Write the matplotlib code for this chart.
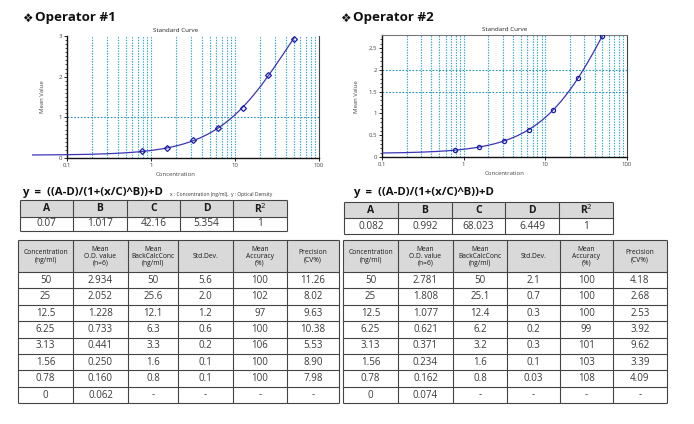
import numpy as np
import matplotlib
matplotlib.use("Agg")
import matplotlib.pyplot as plt
from matplotlib.patches import Rectangle
from matplotlib.ticker import FixedLocator, NullFormatter

plt.rcParams['font.family'] = ['Open Sans', 'DejaVu Sans']

# ---------------- data ----------------
conc = [50, 25, 12.5, 6.25, 3.13, 1.56, 0.78]
od1 = [2.934, 2.052, 1.228, 0.733, 0.441, 0.250, 0.160]
od2 = [2.781, 1.808, 1.077, 0.621, 0.371, 0.234, 0.162]
params1 = [0.07, 1.017, 42.16, 5.354]
params2 = [0.082, 0.992, 68.023, 6.449]
param_hdr = ['A', 'B', 'C', 'D', 'R$^2$']
param_vals1 = ['0.07', '1.017', '42.16', '5.354', '1']
param_vals2 = ['0.082', '0.992', '68.023', '6.449', '1']

tbl_hdr = ['Concentration\n(ng/ml)', 'Mean\nO.D. value\n(n=6)', 'Mean\nBackCalcConc\n(ng/ml)',
           'Std.Dev.', 'Mean\nAccuracy\n(%)', 'Precision\n(CV%)']
t_conc = ['50', '25', '12.5', '6.25', '3.13', '1.56', '0.78', '0']
t1_od = ['2.934', '2.052', '1.228', '0.733', '0.441', '0.250', '0.160', '0.062']
t1_back = ['50', '25.6', '12.1', '6.3', '3.3', '1.6', '0.8', '-']
t1_sd = ['5.6', '2.0', '1.2', '0.6', '0.2', '0.1', '0.1', '-']
t1_acc = ['100', '102', '97', '100', '106', '100', '100', '-']
t1_cv = ['11.26', '8.02', '9.63', '10.38', '5.53', '8.90', '7.98', '-']
t2_od = ['2.781', '1.808', '1.077', '0.621', '0.371', '0.234', '0.162', '0.074']
t2_back = ['50', '25.1', '12.4', '6.2', '3.2', '1.6', '0.8', '-']
t2_sd = ['2.1', '0.7', '0.3', '0.2', '0.3', '0.1', '0.03', '-']
t2_acc = ['100', '100', '100', '99', '101', '103', '108', '-']
t2_cv = ['4.18', '2.68', '2.53', '3.92', '9.62', '3.39', '4.09', '-']

W, H = 694, 424
fig = plt.figure(figsize=(W / 100, H / 100), dpi=100)
ov = fig.add_axes([0, 0, 1, 1])
ov.set_xlim(0, W)
ov.set_ylim(H, 0)
ov.axis('off')


def px_axes(x0, y0, x1, y1):
    return fig.add_axes([x0 / W, 1 - y1 / H, (x1 - x0) / W, (y1 - y0) / H])


def fourpl(x, p):
    A, B, C, D = p
    return (A - D) / (1 + (x / C) ** B) + D


grid_c = '#2aa8cc'
curve_c = '#3b35b5'
mark_c = '#1c1ca8'


def chart(ax, od, p, xmin, ymax, yticks, ylabels, hgrid, marker, top):
    ax.set_xscale('log')
    ax.set_xlim(xmin, 100)
    ax.set_ylim(0, ymax)
    ax.patch.set_alpha(0)
    gx = [k * 10.0 ** e for e in (-1, 0, 1) for k in range(2, 10)] + [1, 10]
    ax.vlines(gx, 0, ymax, colors=grid_c, linestyles=(0, (1.2, 1.2)), lw=0.8, zorder=1)
    ax.hlines(hgrid, 0.1, 100, colors='#2a8fc0', linestyles=(0, (1.5, 1.5)), lw=0.8, zorder=1)
    xs = np.logspace(np.log10(xmin), np.log10(50), 300)
    ax.plot(xs, fourpl(xs, p), color=curve_c, lw=0.9, zorder=3)
    ax.plot(conc, od, linestyle='none', marker=marker, ms=3.0, mfc='none', mec=mark_c, mew=0.9, zorder=4)
    for s in ['left', 'bottom']:
        ax.spines[s].set_color('#111111')
        ax.spines[s].set_linewidth(1.0)
    ax.spines['left'].set_position(('data', 0.1))
    ax.spines['bottom'].set_bounds(0.1, 100)
    ax.spines['right'].set_color('#444444')
    ax.spines['right'].set_linewidth(0.8)
    ax.spines['top'].set_visible(top)
    ax.spines['top'].set_color('#777777')
    ax.spines['top'].set_bounds(0.1, 100)
    ax.xaxis.set_major_locator(FixedLocator([0.1, 1, 10, 100]))
    ax.set_xticklabels(['0.1', '1', '10', '100'])
    ax.xaxis.set_minor_locator(FixedLocator([]))
    ax.set_yticks(yticks)
    ax.set_yticklabels(ylabels)
    ax.yaxis.set_minor_locator(FixedLocator(np.arange(0, ymax, 0.1)))
    ax.yaxis.set_minor_formatter(NullFormatter())
    ax.tick_params(which='major', length=2, width=0.6, labelsize=4.3, labelcolor='#444444', pad=1.5)
    ax.tick_params(which='minor', length=1.2, width=0.5)
    ax.set_title('Standard Curve', fontsize=4.5, pad=3, color='#222222')
    ax.set_xlabel('Concentration', fontsize=4.3, labelpad=3, color='#444444')


# chart 1 : 0.1 at x=67, 100 at x=319 -> 84 px/decade; extends left to 0.038
ax1 = px_axes(67 - 84 * np.log10(0.1 / 0.038), 36, 319, 158)
chart(ax1, od1, params1, 0.038, 3.0, [0, 1, 2, 3], ['0', '1', '2', '3'], [1], 'D', False)
ov.text(43, 97, 'Mean Value', rotation=90, fontsize=4.3, color='#444444', ha='center', va='center')

ax2 = px_axes(382, 35, 627, 157)
chart(ax2, od2, params2, 0.1, 2.8, [0, 0.5, 1, 1.5, 2, 2.5], ['0', '0.5', '1', '1.5', '2', '2.5'],
      [1.5, 2], 'o', True)
ov.text(357, 97, 'Mean Value', rotation=90, fontsize=4.3, color='#444444', ha='center', va='center')

# headings
ov.text(22, 18, '❖', fontsize=8.5, va='center', ha='left', family='DejaVu Sans', color='#111111')
ov.text(35, 18, 'Operator #1', fontsize=9.6, fontweight='bold', va='center', ha='left', color='#111111')
ov.text(340, 18, '❖', fontsize=8.5, va='center', ha='left', family='DejaVu Sans', color='#111111')
ov.text(353, 18, 'Operator #2', fontsize=9.6, fontweight='bold', va='center', ha='left', color='#111111')

formula = 'y  =  ((A-D)/(1+(x/C)^B))+D'
ov.text(22, 192, formula, fontsize=8.2, fontweight='bold', va='center', ha='left', color='#111111')
ov.text(170, 194.5, 'x : Concentration (ng/ml),  y : Optical Density', fontsize=3.6, va='center', ha='left',
        color='#333333')
ov.text(353, 192, formula, fontsize=8.2, fontweight='bold', va='center', ha='left', color='#111111')

line_c = '#444444'
hdr_fill = '#d9d9d9'


def draw_table(cols, rows, header, body, hdr_fs, body_fs, hdr_bold):
    ov.add_patch(Rectangle((cols[0], rows[0]), cols[-1] - cols[0], rows[1] - rows[0],
                           facecolor=hdr_fill, edgecolor='none', zorder=0))
    for x in cols:
        ov.plot([x, x], [rows[0], rows[-1]], color=line_c, lw=0.8, solid_capstyle='butt')
    for y in rows:
        ov.plot([cols[0], cols[-1]], [y, y], color=line_c, lw=0.8, solid_capstyle='butt')
    for j, h in enumerate(header):
        ov.text((cols[j] + cols[j + 1]) / 2, (rows[0] + rows[1]) / 2 + 0.5, h, ha='center', va='center',
                fontsize=hdr_fs, fontweight='bold' if hdr_bold else 'normal', color='#1a1a1a',
                linespacing=1.0)
    for i, row in enumerate(body):
        for j, v in enumerate(row):
            ov.text((cols[j] + cols[j + 1]) / 2, (rows[i + 1] + rows[i + 2]) / 2 + 0.3, v,
                    ha='center', va='center', fontsize=body_fs, color='#3a3a3a')


draw_table([20, 73, 127, 180, 233, 287], [200, 216.5, 230.5], param_hdr, [param_vals1], 7.5, 7.3, True)
draw_table([344, 398, 452, 505, 559, 613], [201.5, 218, 234], param_hdr, [param_vals2], 7.5, 7.3, True)

rows_t = [240, 272] + list(np.linspace(272, 403, 9)[1:])
body1 = [list(r) for r in zip(t_conc, t1_od, t1_back, t1_sd, t1_acc, t1_cv)]
body2 = [list(r) for r in zip(t_conc, t2_od, t2_back, t2_sd, t2_acc, t2_cv)]
draw_table([18, 73, 128, 178, 233, 287, 339], rows_t, tbl_hdr, body1, 4.9, 7.0, False)
draw_table([343, 398, 453, 507, 560, 613, 667], rows_t, tbl_hdr, body2, 4.9, 7.0, False)

fig.savefig('out.png', dpi=100)
